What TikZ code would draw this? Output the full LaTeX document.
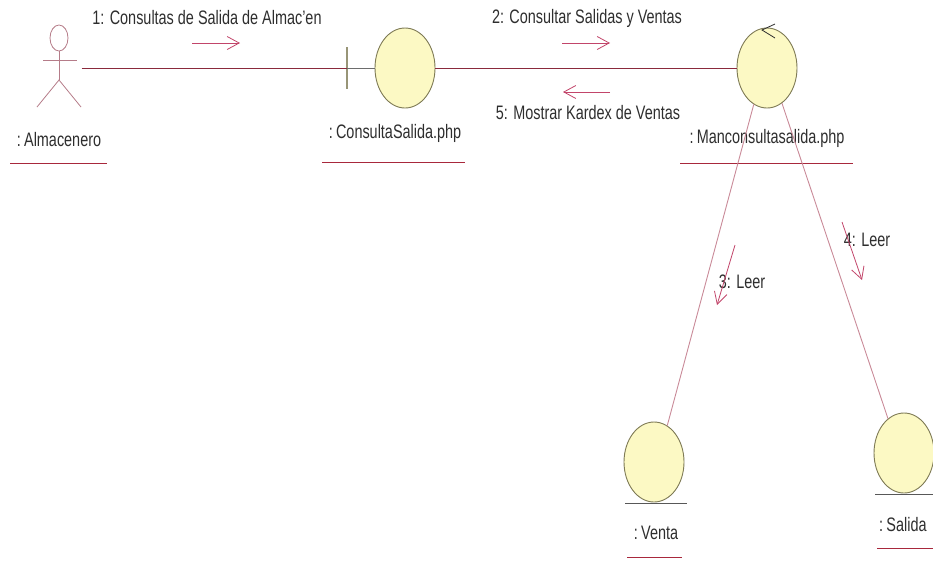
\documentclass[tikz,border=0pt]{standalone}
\usepackage{fontspec}
\setmainfont[FakeStretch=0.74]{Liberation Sans}
\usetikzlibrary{shapes.geometric,arrows.meta}
\definecolor{linkred}{HTML}{8A2A3C}
\definecolor{linkpink}{HTML}{C98A98}
\definecolor{msgred}{HTML}{C2456A}
\definecolor{objfill}{HTML}{FCF9C4}
\definecolor{objdraw}{HTML}{7E7A55}
\definecolor{txt}{HTML}{2E2E2E}
\definecolor{uline}{HTML}{A8283C}
\tikzset{
  obj/.style={ellipse, draw=objdraw, fill=objfill, line width=0.9pt,
              minimum width=60pt, minimum height=80pt, inner sep=0pt},
  lbl/.style={text=txt, font=\fontsize{19.5}{21}\selectfont, inner sep=0pt},
  link/.style={draw=linkred, line width=0.9pt},
  softlink/.style={draw=linkpink, line width=0.9pt},
  msg/.style={draw=msgred, line width=0.8pt, -{Straight Barb[length=12pt,width=13pt]}},
  uln/.style={draw=uline, line width=0.9pt},
  base/.style={draw=txt!80, line width=1pt},
  stick/.style={draw=linkpink!90!black, line width=0.8pt}
}
\begin{document}
\begin{tikzpicture}[x=1pt,y=-1pt]
\useasboundingbox (0,0) rectangle (933,560);

% actor
\node[minimum width=47pt, minimum height=85pt, inner sep=0pt] (actor) at (58,67) {};
\draw[stick] (59,38) ellipse [x radius=9, y radius=13];
\draw[stick] (59,51) -- (59,80);
\draw[stick] (43,60) -- (77,60);
\draw[stick] (37,107) -- (59,80) -- (81,107);
\node[lbl] (actorlbl) at (59,140) {:\,Almacenero};
\draw[uln] (10,163) -- (107,163);

% boundary object
\coordinate (bnd) at (347,68);
\draw[draw=objdraw!80, line width=1.4pt] (347,47) -- (347,89);
\node[obj] (cs) at (405,68) {};
\node[lbl] (cslbl) at (395,133) {:\,ConsultaSalida.php};
\draw[uln] (322,162) -- (465,162);

% control object
\node[obj] (mc) at (767,68) {};
\draw[draw=txt, line width=0.8pt] (775,24) -- (762,30) -- (775,38);
\node[lbl] (mclbl) at (767,138) {:\,Manconsultasalida.php};
\draw[uln] (680,163) -- (853,163);

% entity objects
\node[obj] (venta) at (654,462) {};
\draw[base] (625,503) -- (687,503);
\node[lbl] (ventalbl) at (656,533) {:\,Venta};
\draw[uln] (627,557) -- (682,557);

\node[obj] (salida) at (904,453) {};
\draw[base] (875,494) -- (933,494);
\node[lbl, anchor=west] (salidalbl) at (879,525) {:\,Salida};
\draw[uln] (877,548) -- (933,548);

% links
\draw[link] (actor.east |- 0,68) -- (bnd);
\draw[draw=txt!70, line width=0.9pt] (bnd) -- (cs.west);
\draw[link] (cs.east) -- (mc.west);
\draw[softlink] (mc.250) -- (venta.70);
\draw[softlink] (mc.293) -- (salida.115);

% messages
\node[lbl] (m1) at (207,18) {1: Consultas de Salida de Almac'en};
\coordinate (m1a) at (192,43); \coordinate (m1b) at (240,43);
\draw[msg] (m1a) -- (m1b);

\node[lbl] (m2) at (587,18) {2: Consultar Salidas y Ventas};
\coordinate (m2a) at (562,43); \coordinate (m2b) at (610,43);
\draw[msg] (m2a) -- (m2b);

\node[lbl] (m5) at (588,113) {5: Mostrar Kardex de Ventas};
\coordinate (m5a) at (610,92); \coordinate (m5b) at (563,92);
\draw[msg] (m5a) -- (m5b);

\node[lbl] (m3) at (742,282) {3: Leer};
\coordinate (m3a) at (735,245); \coordinate (m3b) at (717,305);
\draw[msg] (m3a) -- (m3b);

\node[lbl] (m4) at (867,240) {4: Leer};
\coordinate (m4a) at (842,222); \coordinate (m4b) at (862,280);
\draw[msg] (m4a) -- (m4b);
\end{tikzpicture}
\end{document}
